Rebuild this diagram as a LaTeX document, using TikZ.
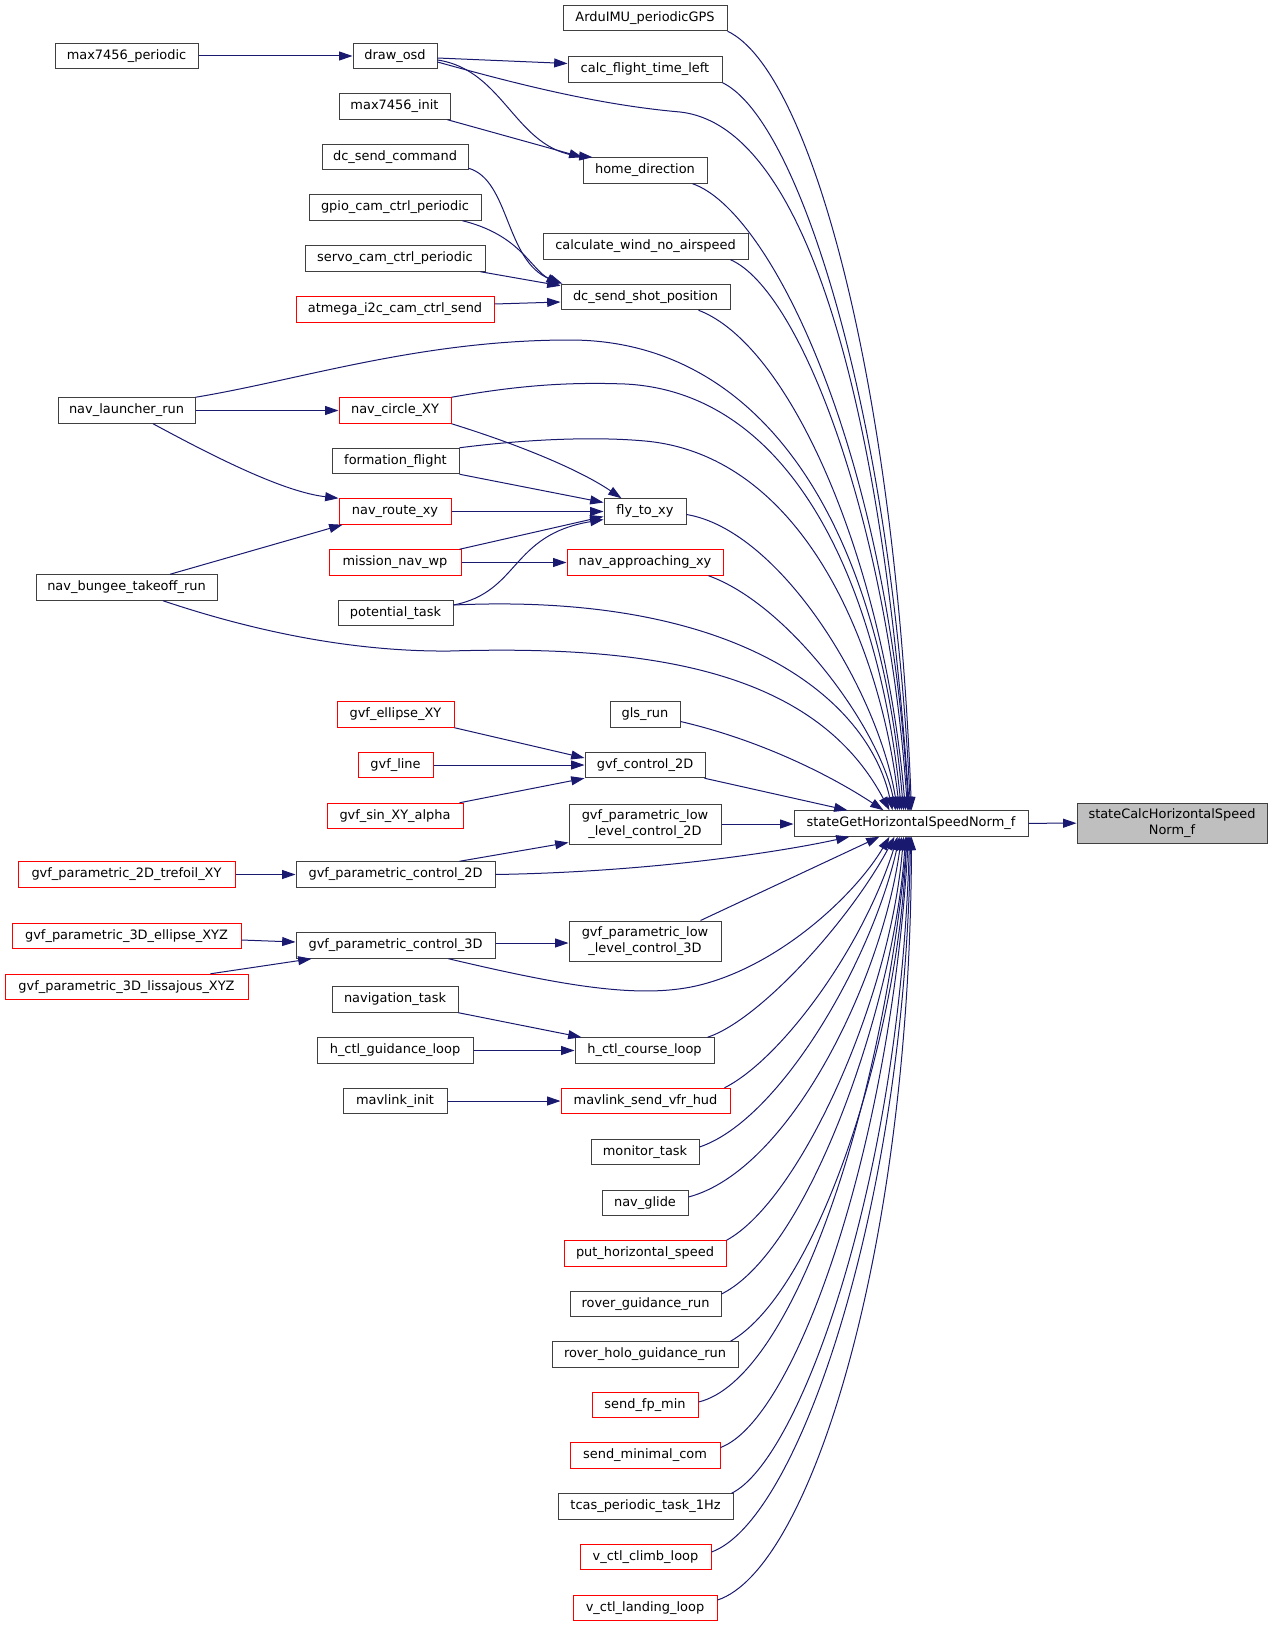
\documentclass[tikz,border=0pt]{standalone}
\usepackage{fontspec}
\setmainfont{DejaVu Sans}
\usetikzlibrary{arrows.meta}
\definecolor{edgeblue}{HTML}{191970}
\definecolor{boxgray}{HTML}{404040}
\definecolor{boxred}{HTML}{FF0000}
\definecolor{fillgray}{HTML}{BFBFBF}
\newcommand{\sgtop}[1]{([shift={(#1-794,0)}]sg.north west)}
\newcommand{\sgbot}[1]{([shift={(#1-794,0)}]sg.south west)}
\tikzset{
  bx/.style={draw=boxgray, line width=0.75pt, fill=white, minimum height=19.1pt,
    inner sep=0pt, align=center, font=\fontsize{9.7pt}{12pt}\selectfont},
  rbx/.style={bx, draw=boxred},
  wd/.style={minimum width=#1*0.75pt},
  ht/.style={minimum height=#1*0.75pt},
  ed/.style={draw=edgeblue, line width=0.75pt, -{Triangle[length=10pt,width=6.7pt]}}
}
\begin{document}
\begin{tikzpicture}[x=0.75pt, y=-0.75pt]
\useasboundingbox[fill=white] (0,0) rectangle (1273,1627);
% column A
\node[bx, wd=143] (mp) at (126.5,56) {max7456\_periodic};
\node[bx, wd=137] (launch) at (126.5,410.5) {nav\_launcher\_run};
\node[bx, wd=181] (bungee) at (126.5,587.5) {nav\_bungee\_takeoff\_run};
\node[rbx, wd=217] (tref) at (126.5,874.5) {gvf\_parametric\_2D\_trefoil\_XY};
\node[rbx, wd=229] (ell3) at (126.5,936) {gvf\_parametric\_3D\_ellipse\_XYZ};
\node[rbx, wd=243] (lis3) at (126.5,987) {gvf\_parametric\_3D\_lissajous\_XYZ};
% column B
\node[bx, wd=84] (osd) at (395,56) {draw\_osd};
\node[bx, wd=111] (mi) at (394.5,106.5) {max7456\_init};
\node[bx, wd=146] (dcc) at (395,157) {dc\_send\_command};
\node[bx, wd=172] (gpio) at (395,207.5) {gpio\_cam\_ctrl\_periodic};
\node[bx, wd=180] (servo) at (395,258.5) {servo\_cam\_ctrl\_periodic};
\node[rbx, wd=198] (atm) at (395,309.5) {atmega\_i2c\_cam\_ctrl\_send};
\node[rbx, wd=112] (circ) at (395,410.5) {nav\_circle\_XY};
\node[bx, wd=127] (form) at (395.5,461) {formation\_flight};
\node[rbx, wd=112] (route) at (395,511.5) {nav\_route\_xy};
\node[rbx, wd=132] (mnw) at (395,562.5) {mission\_nav\_wp};
\node[bx, wd=115] (pot) at (395.5,613) {potential\_task};
\node[rbx, wd=117] (gell) at (395.5,714.5) {gvf\_ellipse\_XY};
\node[rbx, wd=75] (gline) at (395.5,765) {gvf\_line};
\node[rbx, wd=136] (gsin) at (395,816) {gvf\_sin\_XY\_alpha};
\node[bx, wd=199] (pc2) at (395.5,874.5) {gvf\_parametric\_control\_2D};
\node[bx, wd=199] (pc3) at (395.5,945.5) {gvf\_parametric\_control\_3D};
\node[bx, wd=126] (navt) at (395,999.5) {navigation\_task};
\node[bx, wd=156] (hgl) at (395,1050.5) {h\_ctl\_guidance\_loop};
\node[bx, wd=104] (mli) at (395,1101) {mavlink\_init};
% column C
\node[bx, wd=164] (ardu) at (645,18) {ArduIMU\_periodicGPS};
\node[bx, wd=154] (calc) at (645,69.5) {calc\_flight\_time\_left};
\node[bx, wd=124] (home) at (645,170.5) {home\_direction};
\node[bx, wd=205] (wind) at (645.5,246.5) {calculate\_wind\_no\_airspeed};
\node[bx, wd=169] (shot) at (645.5,297) {dc\_send\_shot\_position};
\node[bx, wd=82] (fly) at (645,511.5) {fly\_to\_xy};
\node[rbx, wd=156] (napp) at (645,562.5) {nav\_approaching\_xy};
\node[bx, wd=70] (gls) at (645,714.5) {gls\_run};
\node[bx, wd=120] (gc2) at (645,765) {gvf\_control\_2D};
\node[bx, wd=152, ht=40] (ll2) at (645,824) {gvf\_parametric\_low\\\_level\_control\_2D};
\node[bx, wd=152, ht=40] (ll3) at (645,941) {gvf\_parametric\_low\\\_level\_control\_3D};
\node[bx, wd=139] (hcl) at (644.5,1050.5) {h\_ctl\_course\_loop};
\node[rbx, wd=169] (mvh) at (645.5,1101) {mavlink\_send\_vfr\_hud};
\node[bx, wd=108] (mon) at (645,1152) {monitor\_task};
\node[bx, wd=86] (glide) at (645,1203) {nav\_glide};
\node[rbx, wd=162] (put) at (645,1253.5) {put\_horizontal\_speed};
\node[bx, wd=151] (rov) at (645.5,1304) {rover\_guidance\_run};
\node[bx, wd=186] (roh) at (645,1354.5) {rover\_holo\_guidance\_run};
\node[rbx, wd=106] (sfp) at (645,1405) {send\_fp\_min};
\node[rbx, wd=150] (smc) at (645,1455.5) {send\_minimal\_com};
\node[bx, wd=175] (tcas) at (645.5,1506.5) {tcas\_periodic\_task\_1Hz};
\node[rbx, wd=131] (vcl) at (645.5,1557) {v\_ctl\_climb\_loop};
\node[rbx, wd=144] (vll) at (645,1608) {v\_ctl\_landing\_loop};
% right
\node[bx, wd=234] (sg) at (911,823.5) {stateGetHorizontalSpeedNorm\_f};
\node[bx, wd=190, ht=40, fill=fillgray] (calcH) at (1172,823) {stateCalcHorizontalSpeed\\Norm\_f};

% edges: left part
\draw[ed] (mp) -- (osd);
\draw[ed] ([shift={(0,2)}]osd.east) -- ([shift={(0,-6)}]calc.west);
\draw[ed] ([shift={(0,4)}]osd.east) .. controls (505,70) and (515,150) .. ([shift={(10,0)}]home.north west);
\draw[ed] ([shift={(-3,0)}]mi.south east) -- (home.north west);
\draw[ed] ([shift={(0,-2)}]dcc.south east) .. controls (510,180) and (505,262) .. ([shift={(2,0)}]shot.north west);
\draw[ed] ([shift={(-19,0)}]gpio.south east) .. controls (520,235) and (530,268) .. ([shift={(-1,1)}]shot.north west);
\draw[ed] ([shift={(-5,0)}]servo.south east) -- ([shift={(0,2)}]shot.north west);
\draw[ed] ([shift={(0,-5.5)}]atm.east) -- ([shift={(0,5)}]shot.west);
\draw[ed] (launch) -- (circ);
\draw[ed] ([shift={(26.5,0)}]launch.south) .. controls (220,460) and (285,492) .. (route.north west);
\draw[ed] ([shift={(43.5,0)}]bungee.north) -- ([shift={(4,0)}]route.south west);
\draw[ed] (circ.south east) .. controls (520,445) and (580,470) .. ([shift={(18,0)}]fly.north west);
\draw[ed] (form.south east) -- ([shift={(0,-9)}]fly.west);
\draw[ed] (route) -- (fly);
\draw[ed] ([shift={(-2,0)}]mnw.north east) -- ([shift={(0,5)}]fly.west);
\draw[ed] (mnw) -- (napp);
\draw[ed] ([shift={(0,-8)}]pot.east) .. controls (520,592) and (510,535) .. ([shift={(0,8)}]fly.west);
\draw[ed] (gell.south east) -- ([shift={(0,-7)}]gc2.west);
\draw[ed] (gline) -- (gc2);
\draw[ed] ([shift={(-4,0)}]gsin.north east) -- (gc2.south west);
\draw[ed] ([shift={(-36,0)}]pc2.north east) -- ([shift={(0,-2)}]ll2.south west);
\draw[ed] (tref) -- (pc2);
\draw[ed] ([shift={(0,4)}]ell3.east) -- ([shift={(0,-3.5)}]pc3.west);
\draw[ed] ([shift={(-38,0)}]lis3.north east) -- ([shift={(16,0)}]pc3.south west);
\draw[ed] ([shift={(0,-2.5)}]pc3.east) -- ([shift={(0,2)}]ll3.west);
\draw[ed] (navt.south east) -- ([shift={(7,0)}]hcl.north west);
\draw[ed] (hgl) -- (hcl);
\draw[ed] (mli) -- (mvh);

% edges into stateGetHorizontalSpeedNorm_f from above
\draw[ed] (ardu.south east) .. controls (810,70) and (895,380) .. \sgtop{912};
\draw[ed] (calc.south east) .. controls (800,120) and (892,420) .. \sgtop{911};
\draw[ed] ([shift={(0,6)}]osd.east) .. controls (520,85) and (600,105) .. (680,112) .. controls (800,125) and (880,380) .. \sgtop{910};
\draw[ed] ([shift={(-15,0)}]home.south east) .. controls (770,210) and (888,450) .. \sgtop{909};
\draw[ed] ([shift={(-18,0)}]wind.south east) .. controls (800,290) and (888,520) .. \sgtop{908};
\draw[ed] ([shift={(-32,0)}]shot.south east) .. controls (790,345) and (884,560) .. \sgtop{906};
\draw[ed] (launch.north east) .. controls (300,380) and (420,340) .. (570,340) .. controls (760,340) and (878,520) .. \sgtop{904};
\draw[ed] (circ.north east) .. controls (520,385) and (570,382) .. (625,384) .. controls (790,392) and (878,580) .. \sgtop{902};
\draw[ed] (form.north east) .. controls (520,440) and (590,436) .. (645,441) .. controls (800,455) and (880,640) .. \sgtop{900};
\draw[ed] ([shift={(0,3)}]fly.east) .. controls (780,530) and (878,690) .. \sgtop{898};
\draw[ed] ([shift={(-15,0)}]napp.south east) .. controls (790,605) and (880,730) .. \sgtop{896};
\draw[ed] ([shift={(0,-8)}]pot.east) .. controls (740,592) and (868,700) .. \sgtop{893};
\draw[ed] ([shift={(36.5,0)}]bungee.south) .. controls (250,630) and (350,652) .. (450,651) .. controls (650,645) and (815,670) .. \sgtop{890};
\draw[ed] ([shift={(0,7)}]gls.east) .. controls (760,740) and (830,775) .. \sgtop{884};
\draw[ed] ([shift={(-1,0)}]gc2.south east) -- \sgtop{848};
\draw[ed] (ll2.east) -- (ll2.east -| sg.west);
% from below
\draw[ed] (pc2.east) .. controls (650,872) and (780,852) .. \sgbot{850};
\draw[ed] ([shift={(-21,0)}]ll3.north east) -- \sgbot{880};
\draw[ed] ([shift={(-47,0)}]pc3.south east) .. controls (560,985) and (640,1000) .. (700,985) .. controls (780,965) and (855,895) .. \sgbot{890};
\draw[ed] ([shift={(-7,0)}]hcl.north east) .. controls (760,1020) and (850,920) .. \sgbot{895};
\draw[ed] ([shift={(-6,0)}]mvh.north east) .. controls (780,1060) and (862,950) .. \sgbot{898};
\draw[ed] ([shift={(0,-5)}]mon.east) .. controls (780,1120) and (872,960) .. \sgbot{900};
\draw[ed] ([shift={(0,-6)}]glide.east) .. controls (790,1170) and (882,980) .. \sgbot{902};
\draw[ed] (put.north east) .. controls (800,1200) and (890,1000) .. \sgbot{904};
\draw[ed] ([shift={(0,-10)}]rov.east) .. controls (810,1250) and (895,1000) .. \sgbot{906};
\draw[ed] ([shift={(-8,0)}]roh.north east) .. controls (820,1290) and (900,1030) .. \sgbot{907};
\draw[ed] ([shift={(0,-3)}]sfp.east) .. controls (790,1380) and (880,1120) .. \sgbot{908};
\draw[ed] ([shift={(0,-8)}]smc.east) .. controls (795,1420) and (890,1150) .. \sgbot{909};
\draw[ed] ([shift={(-2,0)}]tcas.north east) .. controls (800,1460) and (900,1180) .. \sgbot{910};
\draw[ed] ([shift={(0,-5)}]vcl.east) .. controls (800,1520) and (905,1200) .. \sgbot{911};
\draw[ed] ([shift={(0,-8)}]vll.east) .. controls (810,1570) and (910,1250) .. \sgbot{912};
% to stateCalc
\draw[ed] (sg) -- (calcH);
\end{tikzpicture}
\end{document}
